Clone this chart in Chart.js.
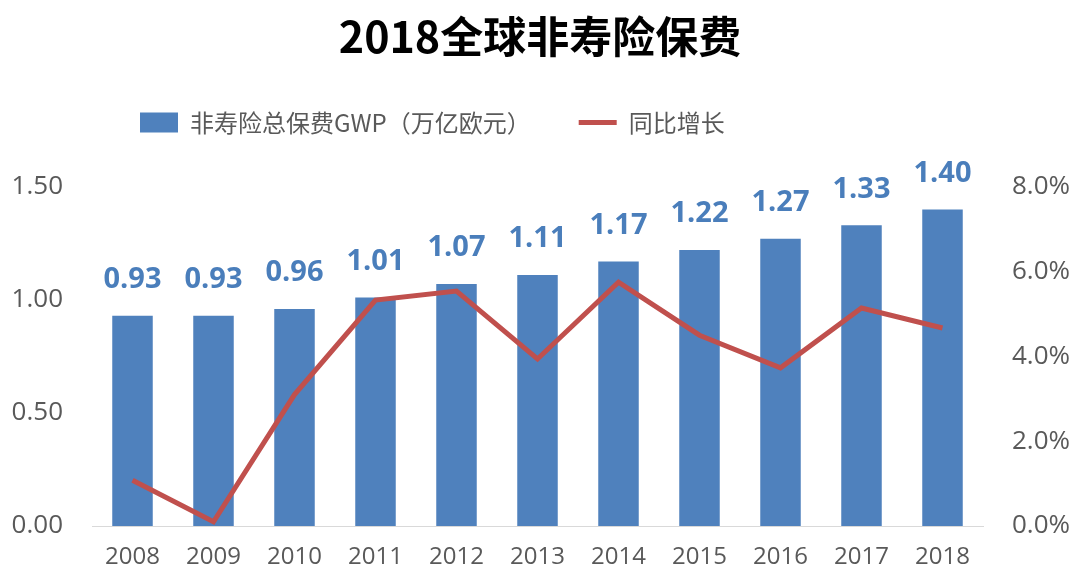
<!DOCTYPE html>
<html>
<head>
<meta charset="utf-8">
<script src="https://cdn.jsdelivr.net/npm/chart.js@4/dist/chart.umd.min.js"></script>
<style>
    html, body { margin: 0; padding: 0; background: #ffffff; }
    #wrap { width: 1080px; height: 585px; position: relative; }
</style>
</head>
<body>
<div id="wrap"><canvas id="gwpChart"></canvas></div>
<script>
const years = ['2008', '2009', '2010', '2011', '2012', '2013', '2014', '2015', '2016', '2017', '2018'];
const gwpValues = [0.93, 0.93, 0.96, 1.01, 1.07, 1.11, 1.17, 1.22, 1.27, 1.33, 1.40];
const growthValues = [1.08, 0.1, 3.1, 5.33, 5.54, 3.94, 5.75, 4.5, 3.73, 5.14, 4.67];
const leftTicks = [0, 0.5, 1.0, 1.5];
const rightTicks = [0, 2, 4, 6, 8];

const FONT = "'Open Sans', 'Noto Sans CJK SC', sans-serif";
const CJK = "'Noto Sans CJK SC', 'Open Sans', sans-serif";

//..values above the bars
const barLabels = {
    id: 'barLabels',
    afterDatasetsDraw(chart) {
        const meta = chart.getDatasetMeta(0);
        const ctx = chart.ctx;
        ctx.save();
        ctx.font = "bold 29px " + FONT;
        ctx.fillStyle = '#4a7ebb';
        ctx.textAlign = 'center';
        ctx.textBaseline = 'middle';
        meta.data.forEach((bar, i) => {
            ctx.fillText(gwpValues[i].toFixed(2), bar.x, bar.y - 36);
        });
        ctx.restore();
    }
};

new Chart(document.getElementById('gwpChart'), {
    type: 'bar',
    data: {
        labels: years,
        datasets: [
            {
                label: '非寿险总保费GWP（万亿欧元）',
                data: gwpValues,
                backgroundColor: '#4F81BD',
                borderWidth: 0,
                categoryPercentage: 0.5,
                barPercentage: 1,
                yAxisID: 'y',
                order: 1,
                pointStyle: 'rect'
            },
            {
                type: 'line',
                label: '同比增长',
                data: growthValues,
                borderColor: '#C0504D',
                backgroundColor: '#C0504D',
                borderWidth: 5,
                pointRadius: 0,
                tension: 0,
                yAxisID: 'y1',
                order: 0,
                pointStyle: 'line'
            }
        ]
    },
    options: {
        responsive: true,
        maintainAspectRatio: false,
        animation: false,
        layout: {
            padding: 0
        },
        plugins: {
            tooltip: { enabled: false },
            title: {
                display: true,
                text: '2018全球非寿险保费',
                color: '#000000',
                font: { family: CJK, size: 43, weight: 'bold' },
                padding: { top: 11, bottom: 0 }
            },
            //..empty spacer between legend and plot
            subtitle: {
                display: true,
                text: '',
                weight: 500,
                font: { size: 1 },
                padding: { top: 0, bottom: 41 }
            },
            legend: {
                position: 'top',
                align: 'start',
                fullSize: false,
                labels: {
                    usePointStyle: true,
                    pointStyleWidth: 38,
                    boxHeight: 20,
                    padding: 48,
                    color: '#595959',
                    font: { family: CJK, size: 24 },
                    sort: (a, b) => a.datasetIndex - b.datasetIndex
                }
            }
        },
        scales: {
            x: {
                grid: { display: false, drawTicks: false },
                border: { display: true, color: '#d9d9d9', width: 1 },
                afterFit: axis => { axis.height = 59; },
                ticks: {
                    color: '#595959',
                    font: { family: FONT, size: 24 },
                    padding: 17,
                    maxRotation: 0
                }
            },
            y: {
                position: 'left',
                min: 0,
                max: 1.5,
                afterBuildTicks: axis => { axis.ticks = leftTicks.map(v => ({ value: v })); },
                afterFit: axis => { axis.width = 92; },
                grid: { display: false, drawTicks: false },
                border: { display: false },
                ticks: {
                    color: '#595959',
                    font: { family: FONT, size: 26 },
                    padding: 29,
                    callback: v => Number(v).toFixed(2)
                }
            },
            y1: {
                position: 'right',
                min: 0,
                max: 8,
                afterBuildTicks: axis => { axis.ticks = rightTicks.map(v => ({ value: v })); },
                afterFit: axis => { axis.width = 97; },
                grid: { display: false, drawTicks: false },
                border: { display: false },
                ticks: {
                    color: '#595959',
                    font: { family: FONT, size: 26 },
                    padding: 29,
                    callback: v => Number(v).toFixed(1) + '%'
                }
            }
        }
    },
    plugins: [barLabels]
});
</script>
</body>
</html>
